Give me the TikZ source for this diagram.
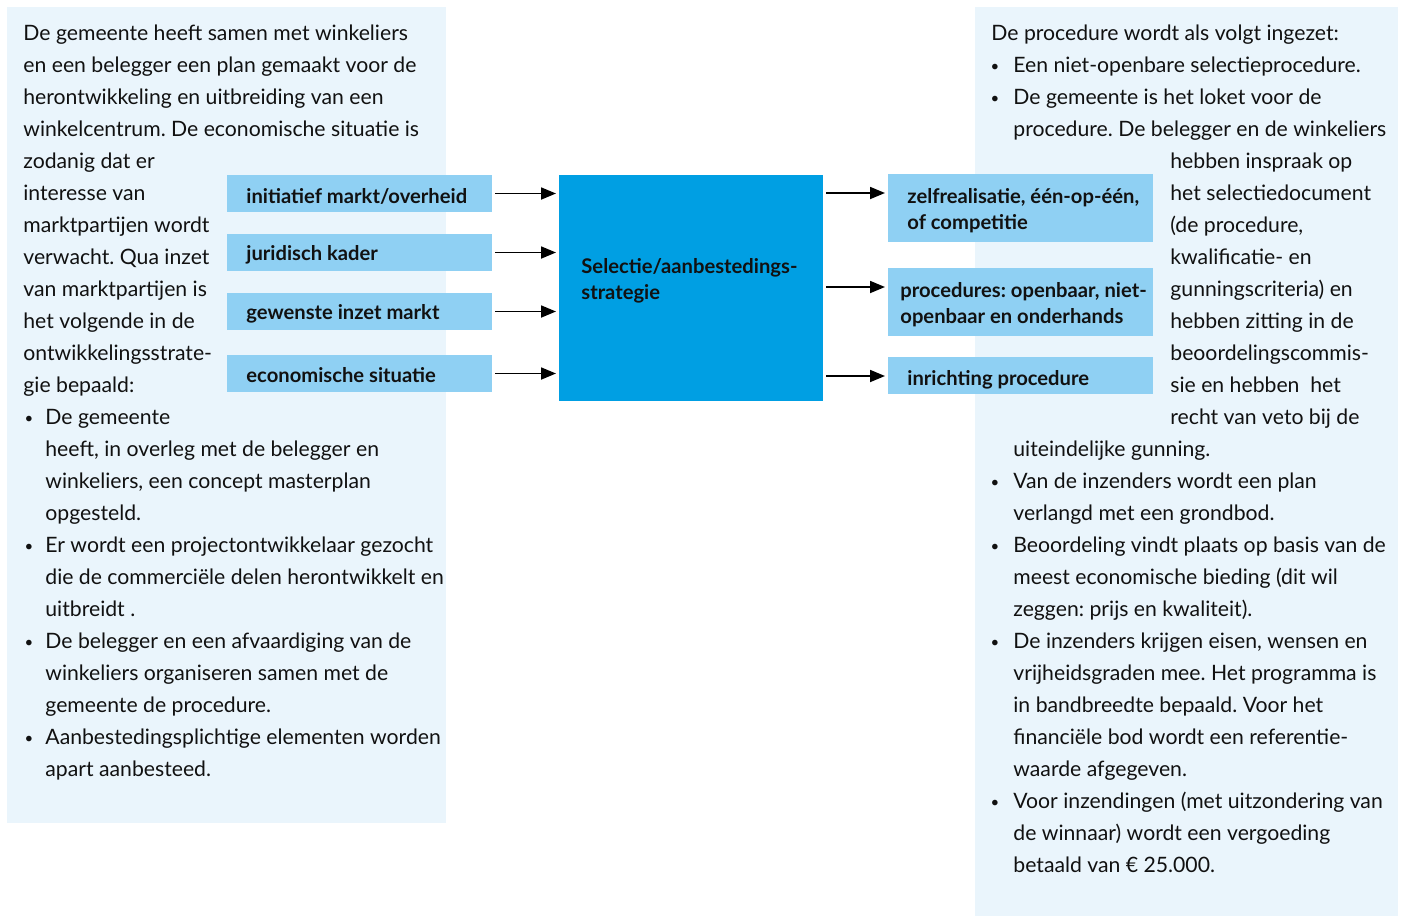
\documentclass[tikz,border=0pt]{standalone}
\usepackage{fontspec}
\setmainfont{Lato}
\usetikzlibrary{arrows.meta,calc}
\definecolor{panel}{HTML}{EAF5FC}
\definecolor{lbox}{HTML}{8FD0F3}
\definecolor{cbox}{HTML}{009FE3}
\definecolor{ink}{HTML}{111111}
\frenchspacing
\tikzset{
  txt/.style={anchor=base west, inner sep=0pt, font=\fontsize{10.6}{12}\selectfont\frenchspacing, text=ink},
  bul/.style={anchor=base, inner sep=0pt, font=\fontsize{7.5}{9}\selectfont, text=ink},
  blbl/.style={anchor=base west, inner sep=0pt, font=\bfseries\fontsize{10.1}{12}\selectfont, text=ink},
  inbox/.style={fill=lbox, inner sep=0pt, outer sep=0pt, anchor=north west, minimum width=132.5pt},
  cenbox/.style={fill=cbox, inner sep=0pt, outer sep=0pt, anchor=north west},
  arr/.style={-{Triangle[length=7.5pt,width=6pt]}, line width=0.9pt, draw=black, shorten <=1.5pt, shorten >=1.5pt}
}
\begin{document}
\begin{tikzpicture}[x=0.5pt,y=-0.5pt]
\useasboundingbox (0,0) rectangle (1405,917);
% panels
\fill[panel] (7,7) rectangle (446,823);
\fill[panel] (975,7) rectangle (1398,916);

% left text
\foreach \t [count=\i] in {
  De gemeente heeft samen met winkeliers,
  en een belegger een plan gemaakt voor de,
  herontwikkeling en uitbreiding van een,
  winkelcentrum. De economische situatie is,
  zodanig dat er,
  interesse van,
  marktpartijen wordt,
  verwacht. Qua inzet,
  van marktpartijen is,
  het volgende in de,
  ontwikkelingsstrate-,
  gie bepaald:}
  {\node[txt] (L\i) at (23,{40+32*(\i-1)}) {\t};}
\foreach \t [count=\i] in {
  De gemeente,
  {heeft, in overleg met de belegger en},
  {winkeliers, een concept masterplan},
  opgesteld.,
  Er wordt een projectontwikkelaar gezocht,
  die de commerciële delen herontwikkelt en,
  uitbreidt .,
  De belegger en een afvaardiging van de,
  winkeliers organiseren samen met de,
  gemeente de procedure.,
  Aanbestedingsplichtige elementen worden,
  apart aanbesteed.}
  {\node[txt] (LB\i) at (45,{424+32*(\i-1)}) {\t};}
\foreach \y [count=\i] in {424,552,648,744}
  {\node[bul] (lb\i) at (29,\y-1) {•};}

% right text
\node[txt] (R0) at (991,40) {De procedure wordt als volgt ingezet:};
\foreach \t [count=\i] in {
  Een niet-openbare selectieprocedure.,
  De gemeente is het loket voor de,
  procedure. De belegger en de winkeliers}
  {\node[txt] (RA\i) at (1013,{72+32*(\i-1)}) {\t};}
\foreach \t [count=\i] in {
  hebben inspraak op,
  het selectiedocument,
  {(de procedure,},
  kwalificatie- en,
  gunningscriteria) en,
  hebben zitting in de,
  beoordelingscommis-,
  sie en hebben\ \ het,
  recht van veto bij de}
  {\node[txt] (RB\i) at (1170,{168+32*(\i-1)}) {\t};}
\foreach \t [count=\i] in {
  uiteindelijke gunning.,
  Van de inzenders wordt een plan,
  verlangd met een grondbod.,
  Beoordeling vindt plaats op basis van de,
  meest economische bieding (dit wil,
  zeggen: prijs en kwaliteit).,
  {De inzenders krijgen eisen, wensen en},
  vrijheidsgraden mee. Het programma is,
  in bandbreedte bepaald. Voor het,
  financiële bod wordt een referentie-,
  waarde afgegeven.,
  Voor inzendingen (met uitzondering van,
  de winnaar) wordt een vergoeding,
  betaald van € 25.000.}
  {\node[txt] (RC\i) at (1013,{456+32*(\i-1)}) {\t};}
\foreach \y [count=\i] in {72,104,488,552,648,808}
  {\node[bul] (rb\i) at (995,\y-1) {•};}

% left boxes
\node[inbox, minimum height=18.5pt] (b1) at (227,175) {};
\node[inbox, minimum height=18.5pt] (b2) at (227,234) {};
\node[inbox, minimum height=18.5pt] (b3) at (227,293) {};
\node[inbox, minimum height=18.5pt] (b4) at (227,355) {};
\node[blbl] (t1) at (246,203) {initiatief markt/overheid};
\node[blbl] (t2) at (246,260) {juridisch kader};
\node[blbl] (t3) at (246,319) {gewenste inzet markt};
\node[blbl] (t4) at (246,382) {economische situatie};

% center box
\node[cenbox, minimum width=132pt, minimum height=113pt] (C) at (559,175) {};
\node[blbl] (c1) at (581,273) {Selectie/aanbestedings-};
\node[blbl] (c2) at (581,299) {strategie};

% right boxes
\node[inbox, minimum height=34pt] (r1) at (888,174) {};
\node[inbox, minimum height=34pt] (r2) at (888,268) {};
\node[inbox, minimum height=18.5pt] (r3) at (888,357) {};
\node[blbl] (s1) at (907,203) {zelfrealisatie, één-op-één,};
\node[blbl] (s2) at (907,229) {of competitie};
\node[blbl] (s3) at (900,297) {procedures: openbaar, niet-};
\node[blbl] (s4) at (900,323) {openbaar en onderhands};
\node[blbl] (s5) at (907,385) {inrichting procedure};

% arrows in
\foreach \b in {b1,b2,b3,b4}
  {\draw[arr] (\b.east) -- (\b.east -| C.west);}
% arrows out
\coordinate (o1) at (0,193);
\coordinate (o2) at (0,287);
\coordinate (o3) at (0,376);
\draw[arr] (C.east |- o1) -- (r1.west |- o1);
\draw[arr] (C.east |- o2) -- (r2.west |- o2);
\draw[arr] (C.east |- o3) -- (r3.west |- o3);
\end{tikzpicture}
\end{document}
